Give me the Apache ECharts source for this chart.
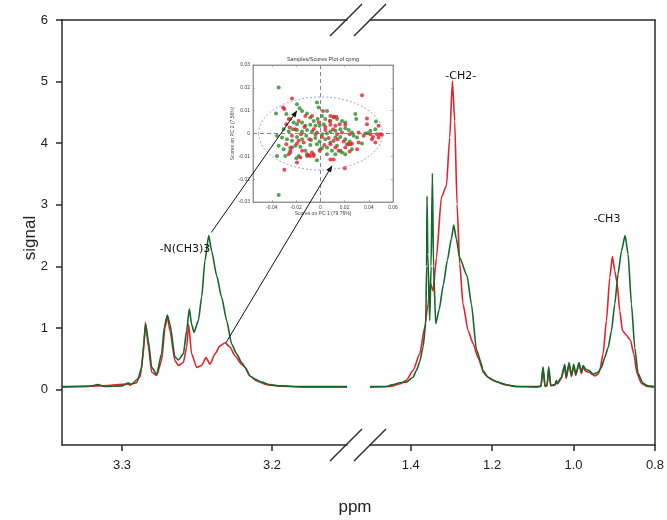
<!DOCTYPE html>
<html><head><meta charset="utf-8">
<script src="https://cdn.jsdelivr.net/npm/echarts@6/dist/echarts.min.js"></script>
<style>html,body{margin:0;padding:0;background:#fff}#c{width:667px;height:520px}</style>
</head><body><div id="c"></div>
<script>
// ---------- spectrum data (ppm, signal) ----------
const leftPpmGreen = [3.34,3.322,3.316,3.312,3.300,3.2958,3.2947,3.2902,3.2869,3.2855,3.2842,3.2824,3.2802,3.2769,3.2736,3.2718,3.2698,3.268,3.2647,3.2624,3.2591,3.2569,3.2551,3.2536,3.252,3.2491,3.2469,3.2447,3.2422,3.2402,3.2369,3.2336,3.2302,3.2269,3.2236,3.2202,3.218,3.2147,3.2113,3.2069,3.2013,3.1947,3.18,3.15];
const leftSignalGreen = [0.05,0.05,0.08,0.05,0.06,0.11,0.09,0.11,0.35,0.75,1.06,0.79,0.36,0.25,0.58,1.01,1.21,1.06,0.53,0.48,0.58,0.96,1.31,1.06,0.93,1.12,1.50,2.09,2.50,2.25,1.85,1.50,1.12,0.74,0.58,0.44,0.36,0.22,0.17,0.12,0.08,0.06,0.05,0.05];
const leftPpmRed = [3.34,3.316,3.2958,3.2947,3.288,3.2858,3.2844,3.2824,3.2802,3.2769,3.2736,3.2713,3.2698,3.268,3.2647,3.2624,3.2591,3.2569,3.2556,3.2536,3.2502,3.2469,3.244,3.2413,3.238,3.2347,3.2313,3.228,3.2247,3.2202,3.218,3.2147,3.2102,3.2036,3.1969,3.18,3.15];
const leftSignalRed = [0.04,0.06,0.09,0.07,0.20,0.58,1.09,0.69,0.28,0.23,0.47,1.01,1.19,0.95,0.47,0.39,0.44,0.69,1.06,0.58,0.36,0.39,0.52,0.41,0.58,0.71,0.76,0.69,0.55,0.41,0.36,0.22,0.14,0.08,0.06,0.04,0.04];

const rightPpmGreen = [1.5,1.46,1.4435,1.427,1.4106,1.3943,1.386,1.3779,1.3697,1.3631,1.361,1.3599,1.358,1.3533,1.35,1.3467,1.344,1.3386,1.33,1.32,1.31,1.30,1.2943,1.288,1.2796,1.2617,1.2509,1.2386,1.2263,1.2224,1.21,1.2018,1.1854,1.177,1.1607,1.14,1.09,1.08,1.075,1.07,1.065,1.061,1.056,1.046,1.042,1.04,1.03,1.0216,1.018,1.011,1.0052,0.9995,0.9946,0.9865,0.9807,0.9766,0.97,0.9619,0.952,0.9398,0.9315,0.9233,0.9152,0.9069,0.8988,0.8906,0.8823,0.8734,0.866,0.8578,0.8496,0.8415,0.8292,0.817,0.80];
const rightSignalGreen = [0.05,0.05,0.08,0.11,0.12,0.20,0.31,0.45,0.69,1.07,2.0,3.14,2.2,1.12,2.0,3.51,2.0,1.07,1.3,1.7,2.1,2.45,2.67,2.45,2.14,1.85,1.39,0.65,0.42,0.28,0.20,0.16,0.12,0.10,0.07,0.05,0.05,0.06,0.37,0.06,0.07,0.37,0.07,0.08,0.15,0.10,0.20,0.41,0.20,0.44,0.23,0.41,0.25,0.44,0.28,0.39,0.33,0.31,0.25,0.28,0.36,0.52,0.68,0.95,1.39,1.88,2.25,2.50,2.20,1.39,0.68,0.26,0.10,0.06,0.05];
const rightPpmRed = [1.5,1.45,1.427,1.4106,1.3943,1.3779,1.3656,1.3574,1.3516,1.3451,1.3369,1.3246,1.3123,1.3042,1.2976,1.2919,1.2862,1.2796,1.2715,1.2592,1.2469,1.2346,1.2224,1.21,1.19,1.17,1.14,1.09,1.08,1.075,1.07,1.065,1.061,1.056,1.046,1.042,1.04,1.03,1.0216,1.018,1.011,1.0052,0.9995,0.9946,0.9865,0.9807,0.9766,0.97,0.9619,0.952,0.9479,0.9398,0.9356,0.9275,0.9192,0.911,0.9045,0.8988,0.8931,0.8865,0.8799,0.87,0.8602,0.8521,0.844,0.8332,0.82,0.80];
const rightSignalRed = [0.04,0.05,0.09,0.15,0.31,0.58,1.01,1.39,1.72,1.60,2.14,3.12,3.31,4.09,5.01,4.36,3.01,2.04,1.39,0.96,0.75,0.52,0.31,0.20,0.13,0.08,0.05,0.04,0.05,0.33,0.05,0.06,0.33,0.06,0.07,0.13,0.09,0.18,0.38,0.18,0.41,0.21,0.38,0.23,0.41,0.26,0.36,0.30,0.28,0.24,0.22,0.25,0.31,0.58,1.12,1.82,2.16,1.93,1.74,1.28,0.96,0.88,0.80,0.58,0.26,0.10,0.05,0.04];

// ---------- inset PCA scores (PC1, PC2) ----------
const scoresGreen = [[-0.0344,0.0201],[-0.0366,0.0088],[-0.0344,-0.0269],[-0.0193,0.0128],[-0.0171,0.0111],[-0.0151,0.0099],[-0.0028,0.0136],[-0.0014,0.0114],[0.0055,0.0099],[-0.011,0.0088],[-0.0083,0.007],[-0.0055,0.0055],[-0.0022,0.0063],[0.0014,0.0077],[0.0041,0.0063],[0.0083,0.0055],[0.011,0.007],[0.0138,0.0063],[0.0179,0.0055],[0.0206,0.0048],[0.0289,0.0085],[0.0297,0.0063],[-0.0281,0.0085],[-0.0248,0.0063],[-0.022,0.0048],[-0.0193,0.0041],[-0.0151,0.0048],[-0.0124,0.0034],[-0.0083,0.0038],[-0.0041,0.0034],[-0.0006,0.0034],[0.0028,0.0041],[-0.0303,0.0019],[-0.0261,0.0009],[-0.0226,0.0019],[-0.0193,0.0015],[-0.0151,0.0009],[-0.011,0.0015],[-0.0069,0.0009],[-0.0028,0.0004],[0.0014,-0.0003],[0.0055,0],[0.0083,0.0009],[0.0124,0.0012],[0.0165,0.0019],[0.0206,0.0023],[0.0234,0.0015],[0.0261,0.0004],[0.0371,0],[0.0391,0.0001],[0.0459,0.0053],[0.0454,0.0019],[0.0413,0.0012],[-0.0358,-0.001],[-0.0316,-0.0018],[-0.0275,-0.0025],[-0.0234,-0.0032],[-0.0193,-0.0015],[-0.0151,-0.0025],[-0.0116,-0.001],[-0.0077,-0.0029],[-0.0041,-0.002],[-0.0006,-0.0035],[0.0041,-0.0025],[0.0083,-0.0039],[0.0124,-0.0018],[0.0165,-0.0015],[0.0206,-0.0025],[0.0242,-0.0035],[0.0275,-0.001],[0.0303,-0.0018],[0.0344,-0.0044],[-0.0344,-0.0054],[-0.0303,-0.0069],[-0.0248,-0.0061],[-0.0206,-0.0054],[-0.0165,-0.0058],[-0.0124,-0.0076],[-0.0083,-0.005],[-0.0028,-0.0047],[0.0014,-0.0064],[0.0055,-0.0061],[0.0096,-0.0076],[0.0138,-0.0054],[0.0179,-0.0083],[0.022,-0.0047],[0.0261,-0.0069],[-0.0358,-0.0098],[-0.0289,-0.0098],[-0.0248,-0.0083],[-0.0179,-0.0098],[-0.011,-0.0098],[-0.0055,-0.0091],[0,-0.0069],[0.0055,-0.0091],[0.0124,-0.0091],[0.0206,-0.0091],[0.0165,-0.0076],[-0.0198,-0.0108],[-0.0028,-0.0117]];
const scoresRed = [[-0.0308,0.0114],[-0.0297,0.0107],[-0.0234,0.0153],[0.0344,0.0168],[-0.0261,0.0063],[-0.0281,0.0041],[-0.0253,0.0026],[-0.0179,0.0055],[-0.0124,0.0077],[-0.0069,0.0077],[0.0022,0.0099],[0.0083,0.0077],[0.011,0.0074],[0.0132,0.0073],[0.0077,0.0055],[0.016,0.0041],[0.0206,0.0038],[0.0385,0.0066],[0.0385,0.0041],[0.0481,0.0034],[0.0083,0.0038],[0.0124,0.0034],[-0.0014,0.0048],[0.0041,0.0029],[-0.0206,0.0019],[-0.016,-0.0003],[-0.0132,0.0029],[-0.0055,0.0019],[0.0041,0.0015],[0.0105,0.0019],[0.0138,-0.0003],[0.0179,0.0004],[0.0242,-0.0003],[0.0316,0.0004],[0.0358,-0.001],[0.0413,-0.0003],[0.0509,-0.0006],[0.0495,-0.0003],[0.0468,-0.0003],[0.0481,-0.0018],[0.0435,-0.0015],[0.0426,-0.0025],[0.0454,-0.0039],[-0.0234,-0.001],[-0.0179,-0.0032],[-0.0138,-0.0039],[-0.0091,-0.0025],[-0.0041,-0.0003],[0.0014,-0.0015],[0.0069,-0.002],[0.011,-0.0032],[0.0143,-0.0025],[0.0193,-0.0035],[0.0234,-0.0047],[0.0261,-0.0044],[0.0316,-0.0039],[-0.0281,-0.0047],[-0.0234,-0.0061],[-0.0193,-0.0044],[-0.0151,-0.0076],[-0.011,-0.0091],[-0.0069,-0.0083],[-0.0055,-0.0098],[-0.0165,-0.0105],[-0.0006,-0.0076],[0.0033,-0.005],[0.0083,-0.0047],[0.0124,-0.0061],[0.0151,-0.0076],[0.0206,-0.0061],[0.0248,-0.0047],[0.0303,-0.0069],[0.0242,-0.0079],[-0.0261,-0.0091],[-0.0248,-0.0076],[-0.0193,-0.0127],[-0.0297,-0.0159],[0.0083,-0.0114],[0.011,-0.0114],[0.0201,-0.0152],[-0.0083,-0.0098],[-0.0094,-0.0095]];
const confEllipse = {cx: 0.0002, cy: 0, rx: 0.0511, ry: 0.016};

// ---------- ticks & labels ----------
const yTicks = [0,1,2,3,4,5,6];
const leftXTicks = [3.3, 3.2];
const rightXTicks = [1.4, 1.2, 1.0, 0.8];
const insetXTicks = [-0.04,-0.02,0,0.02,0.04,0.06];
const insetYTicks = [-0.03,-0.02,-0.01,0,0.01,0.02,0.03];
const peakLabels = [
  {text:'-N(CH3)3', seg:0, ppm:3.258, val:2.28},
  {text:'-CH2-', seg:1, ppm:1.277, val:5.09},
  {text:'-CH3', seg:1, ppm:0.918, val:2.76}
];

const RED = '#e3232a', GREEN = '#17672c';
const zip = (a,b) => a.map((v,i)=>[v,b[i]]);
const AX = '#2a2a2a';
const tickFont = {color:'#222', fontSize:13, fontFamily:'Liberation Sans, Arial, sans-serif'};

function mainX(grid, min, max, ticks, withLabels, pos) {
  return {
    gridIndex: grid, type:'value', min, max, inverse:true, position: pos,
    axisLine:{show:true, onZero:false, lineStyle:{color:AX, width:1.5}},
    axisTick:{show:withLabels, customValues: ticks, length:6, lineStyle:{color:AX, width:1.5}},
    axisLabel:{show:withLabels, customValues: ticks, margin:14, formatter:v=>v.toFixed(1), ...tickFont},
    splitLine:{show:false}
  };
}
function insetAxisX(pos, labels) {
  return {
    gridIndex:2, type:'value', min:-0.0556, max:0.06, position:pos, z:8,
    name: labels ? 'Scores on PC 1 (79.76%)' : '', nameLocation:'middle', nameGap:9,
    nameTextStyle:{fontSize:5, color:'#444', fontFamily:'Liberation Sans, Arial'},
    axisLine:{show:true, onZero:false, lineStyle:{color:'#888', width:0.8}},
    axisTick:{show:true, inside:true, length:2, customValues: insetXTicks, lineStyle:{color:'#888', width:0.6}},
    axisLabel:{show:labels, customValues: insetXTicks, margin:3, fontSize:5, color:'#444', fontFamily:'Liberation Sans, Arial'},
    splitLine:{show:false}
  };
}
function insetAxisY(pos, labels) {
  return {
    gridIndex:2, type:'value', min:-0.03, max:0.03, position:pos, z:8,
    name: labels ? 'Scores on PC 2 (7.56%)' : '', nameLocation:'middle', nameGap:14,
    nameTextStyle:{fontSize:5, color:'#444', fontFamily:'Liberation Sans, Arial'},
    axisLine:{show:true, onZero:false, lineStyle:{color:'#888', width:0.8}},
    axisTick:{show:true, inside:true, length:2, customValues: insetYTicks, lineStyle:{color:'#888', width:0.6}},
    axisLabel:{show:labels, customValues: insetYTicks, margin:3, fontSize:5, color:'#444', fontFamily:'Liberation Sans, Arial'},
    splitLine:{show:false}
  };
}
const lineSeries = (xi, yi, data, color) => ({type:'line', xAxisIndex:xi, yAxisIndex:yi, data, showSymbol:false, smooth:0.2, smoothMonotone:'x',
  lineStyle:{color, width:1.6}, itemStyle:{color}});

const option = {
  animation:false,
  backgroundColor:'#fff',
  grid:[
    {left:62, top:20, width:285, height:425},
    {left:370, top:20, width:285, height:425},
    {left:253, top:65, width:140, height:137, show:true, backgroundColor:'#fff', borderColor:'#888', borderWidth:0.8}
  ],
  xAxis:[
    mainX(0, 3.15, 3.34, leftXTicks, true, 'bottom'),
    mainX(0, 3.15, 3.34, leftXTicks, false, 'top'),
    mainX(1, 0.8, 1.5, rightXTicks, true, 'bottom'),
    mainX(1, 0.8, 1.5, rightXTicks, false, 'top'),
    insetAxisX('bottom', true),
    insetAxisX('top', false)
  ],
  yAxis:[
    {gridIndex:0, type:'value', min:-0.9, max:6, position:'left',
     axisLine:{show:true, onZero:false, lineStyle:{color:AX, width:1.5}},
     axisTick:{show:true, customValues:yTicks, length:6, lineStyle:{color:AX, width:1.5}},
     axisLabel:{show:true, customValues:yTicks, margin:14, ...tickFont},
     splitLine:{show:false}},
    {gridIndex:1, type:'value', min:-0.9, max:6, position:'right',
     axisLine:{show:true, onZero:false, lineStyle:{color:AX, width:1.5}},
     axisTick:{show:false}, axisLabel:{show:false}, splitLine:{show:false}},
    insetAxisY('left', true),
    insetAxisY('right', false)
  ],
  series:[
    lineSeries(0,0,zip(leftPpmRed,leftSignalRed),RED),
    lineSeries(0,0,zip(leftPpmGreen,leftSignalGreen),GREEN),
    lineSeries(2,1,zip(rightPpmRed,rightSignalRed),RED),
    lineSeries(2,1,zip(rightPpmGreen,rightSignalGreen),GREEN),
    {type:'scatter', xAxisIndex:4, yAxisIndex:2, data:scoresGreen, symbolSize:4, itemStyle:{color:'#2b8a2b'}, z:6,
     markLine:{silent:true, symbol:'none', label:{show:false}, lineStyle:{color:'#666', type:[4,3], width:0.8},
       data:[{xAxis:0},{yAxis:0}]}},
    {type:'scatter', xAxisIndex:4, yAxisIndex:2, data:scoresRed, symbolSize:4, itemStyle:{color:'#e5202a'}, z:6}
  ]
};

const chart = echarts.init(document.getElementById('c'), null, {renderer:'canvas'});
chart.setOption(option);

function P(xi, yi, p){ return chart.convertToPixel({xAxisIndex:xi, yAxisIndex:yi}, p); }

const g = [];
g.push({type:'text', x:30, y:238, rotation:Math.PI/2, style:{text:'signal', fontSize:17, fill:'#222', fontFamily:'Liberation Sans, Arial', align:'center', verticalAlign:'middle'}});
g.push({type:'text', x:355, y:507, style:{text:'ppm', fontSize:17, fill:'#222', fontFamily:'Liberation Sans, Arial', align:'center', verticalAlign:'middle'}});
[20, 445].forEach(yy=>{
  g.push({type:'line', shape:{x1:330, y1:yy+16, x2:362, y2:yy-16}, style:{stroke:AX, lineWidth:1.5}});
  g.push({type:'line', shape:{x1:354, y1:yy+16, x2:386, y2:yy-16}, style:{stroke:AX, lineWidth:1.5}});
});
peakLabels.forEach(l=>{
  const p = l.seg===0 ? P(0,0,[l.ppm,l.val]) : P(2,1,[l.ppm,l.val]);
  g.push({type:'text', x:p[0], y:p[1], z:10, style:{text:l.text, fontSize:11, fill:'#111', fontFamily:'DejaVu Sans', align:'center', verticalAlign:'middle'}});
});
const tpos = P(4,2,[0.0022, 0.031]);
g.push({type:'text', x:tpos[0], y:tpos[1], z:10, style:{text:'Samples/Scores Plot of cpmg', fontSize:5.5, fill:'#333', fontFamily:'Liberation Sans, Arial', align:'center', verticalAlign:'bottom'}});
const ec = P(4,2,[confEllipse.cx, confEllipse.cy]);
const ex = P(4,2,[confEllipse.cx+confEllipse.rx, confEllipse.cy]);
const ey = P(4,2,[confEllipse.cx, confEllipse.cy+confEllipse.ry]);
g.push({type:'ellipse', z:7, shape:{cx:ec[0], cy:ec[1], rx:Math.abs(ex[0]-ec[0]), ry:Math.abs(ec[1]-ey[1])}, style:{fill:null, stroke:'#8a8ae8', lineWidth:0.8, lineDash:[2,2]}});
function arrow(a, b){
  const ang = Math.atan2(b[1]-a[1], b[0]-a[0]);
  const L = 7, W = 2.6;
  const bx = b[0]-L*Math.cos(ang), by = b[1]-L*Math.sin(ang);
  g.push({type:'line', z:20, shape:{x1:a[0], y1:a[1], x2:bx, y2:by}, style:{stroke:'#111', lineWidth:1}});
  g.push({type:'polygon', z:20, shape:{points:[[b[0],b[1]],[bx+W*Math.sin(ang), by-W*Math.cos(ang)],[bx-W*Math.sin(ang), by+W*Math.cos(ang)]]}, style:{fill:'#111'}});
}
arrow(P(0,0,[3.2405,2.55]), P(4,2,[-0.019,0.0102]));
arrow(P(0,0,[3.2307,0.76]), P(4,2,[0.0099,-0.0139]));

chart.setOption({graphic:{elements:g}});
</script>
</body></html>
